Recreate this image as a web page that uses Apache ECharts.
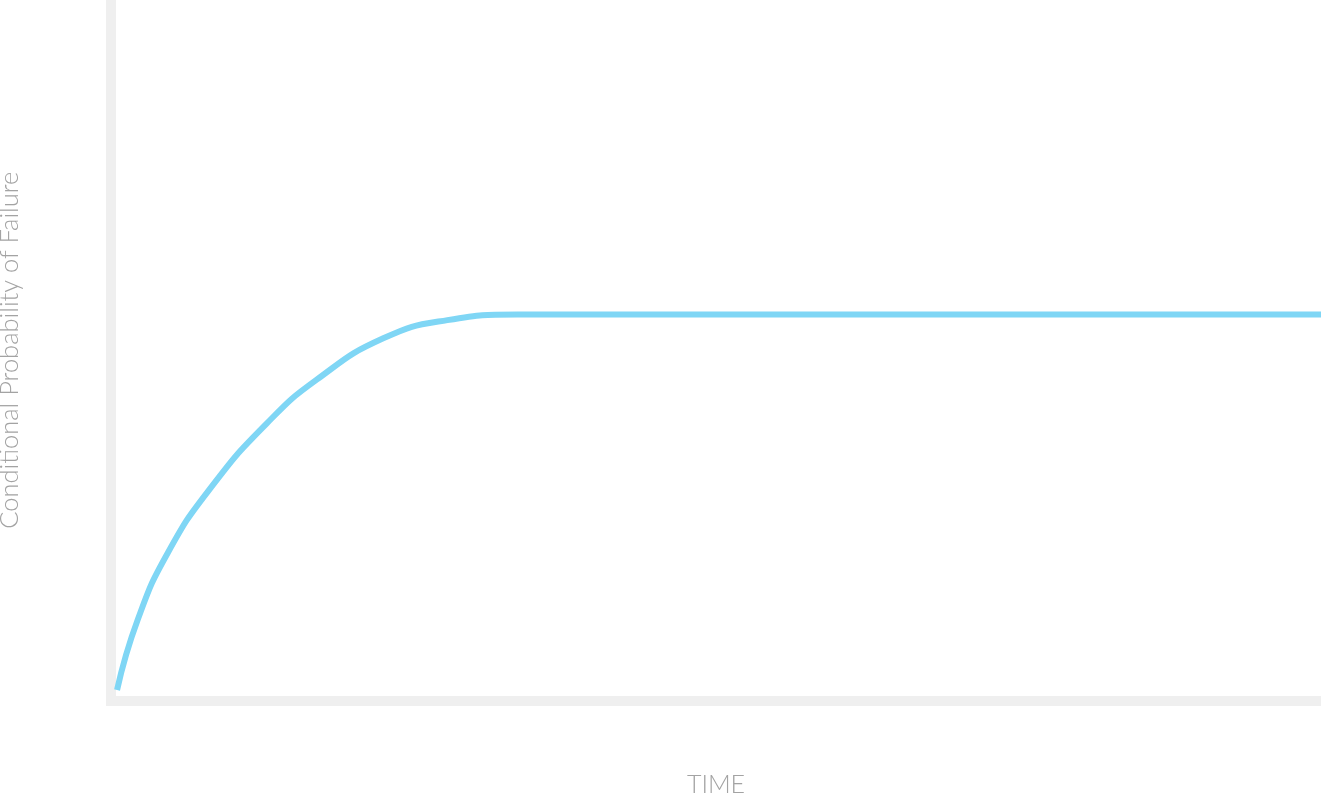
<!DOCTYPE html>
<html>
<head>
<meta charset="utf-8">
<script src="https://cdn.jsdelivr.net/npm/echarts@6/dist/echarts.min.js"></script>
<style>html,body{margin:0;padding:0;background:#fff;}#c{width:1321px;height:794px;}</style>
</head>
<body>
<div id="c"></div>
<script>
const timeValues = [0.5, 2.2, 4.7, 8.3, 12.9, 17.0, 22.5, 27.8, 33.6, 100];
const probValues = [1.5, 11.5, 21.1, 30.5, 39.6, 45.8, 51.7, 54.3, 55.1, 55.1];
const xTitle = 'TIME';
const yTitle = 'Conditional Probability of Failure';

const chart = echarts.init(document.getElementById('c'));
const data = timeValues.map((t, i) => [t, probValues[i]]);
const axisGray = '#efefef';
const textGray = '#a3a3a3';
chart.setOption({
  animation: false,
  grid: { left: 111, right: 0, top: 0, bottom: 93.5, containLabel: false, outerBoundsMode: 'none' },
  xAxis: {
    type: 'value', min: 0, max: 100,
    name: xTitle, nameLocation: 'middle', nameGap: 72,
    nameTextStyle: { fontFamily: 'Lato', fontWeight: 300, fontSize: 25, color: textGray },
    axisLine: { show: true, lineStyle: { color: axisGray, width: 10, cap: 'square' } },
    axisTick: { show: false }, axisLabel: { show: false }, splitLine: { show: false }
  },
  yAxis: {
    type: 'value', min: 0, max: 100,
    name: yTitle, nameLocation: 'middle', nameGap: 88,
    nameTextStyle: { fontFamily: 'Lato', fontWeight: 300, fontSize: 25.5, color: textGray },
    axisLine: { show: true, lineStyle: { color: axisGray, width: 10, cap: 'square' } },
    axisTick: { show: false }, axisLabel: { show: false }, splitLine: { show: false }
  },
  series: [{
    type: 'line', data: data, smooth: 0.5, showSymbol: false,
    lineStyle: { color: '#7fd6f5', width: 6 }
  }]
});
</script>
</body>
</html>
